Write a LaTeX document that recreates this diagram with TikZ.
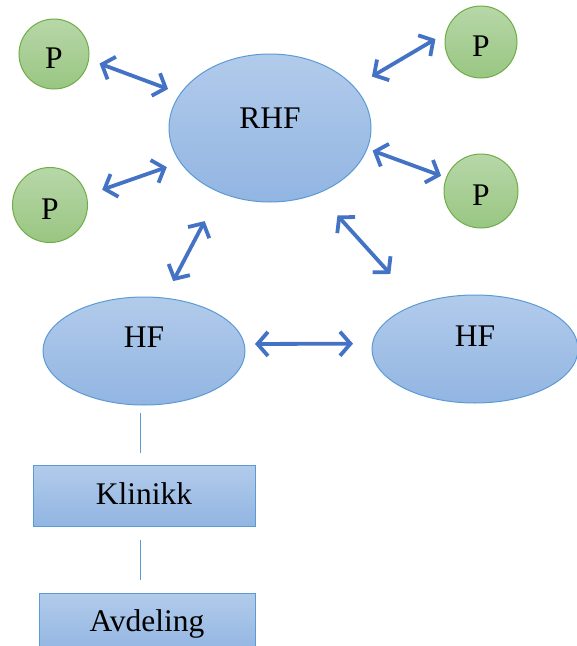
\documentclass[tikz,border=0pt]{standalone}
\usepackage{fontspec}
\setmainfont{Liberation Serif}
\usetikzlibrary{arrows.meta,shapes.geometric}
\definecolor{bluetop}{RGB}{178,203,235}
\definecolor{bluebot}{RGB}{146,181,226}
\definecolor{blueline}{RGB}{91,155,213}
\definecolor{greentop}{RGB}{183,215,168}
\definecolor{greenbot}{RGB}{153,198,130}
\definecolor{greenline}{RGB}{112,173,71}
\definecolor{arrowblue}{RGB}{68,114,196}
\begin{document}
\begin{tikzpicture}[x=1pt,y=-1pt,
 every node/.style={inner sep=0pt, outer sep=0pt, font=\fontsize{31.5}{36}\selectfont},
 blueell/.style={ellipse, draw=blueline, line width=1pt, top color=bluetop, bottom color=bluebot},
 pnode/.style={circle, draw=greenline, line width=1pt, top color=greentop, bottom color=greenbot, text height=29pt, text depth=0pt},
 bluebox/.style={rectangle, draw=blueline, line width=1pt, top color=bluetop, bottom color=bluebot, text height=22pt, text depth=5pt},
 dbl/.style={draw=arrowblue, line width=3.8pt, {Straight Barb[length=10.5pt,width=24pt]}-{Straight Barb[length=10.5pt,width=24pt]}},
 link/.style={draw=blueline, line width=1pt}]
\clip (0,0) rectangle (577,646);
\useasboundingbox (0,0) rectangle (577,646);

\node[blueell, minimum width=202pt, minimum height=148pt, text height=12pt, text depth=12pt] (rhf) at (270,128) {RHF};
\node[pnode, minimum size=70pt] (p1) at (54,54) {P};
\node[pnode, minimum size=75pt] (p2) at (50,205) {P};
\node[pnode, minimum size=72pt] (p3) at (481,42) {P};
\node[pnode, minimum size=74pt] (p4) at (481,191) {P};
\node[blueell, minimum width=202pt, minimum height=108pt, text height=12pt, text depth=20pt] (hfl) at (144,351) {HF};
\node[blueell, minimum width=206pt, minimum height=108pt, text height=12pt, text depth=18pt] (hfr) at (475,349) {HF};
\node[bluebox, minimum width=222pt, minimum height=61pt] (kl) at (144,495.5) {Klinikk};
\node[bluebox, minimum width=216pt, minimum height=60pt] (av) at (147,623) {Avdeling};

\draw[dbl, shorten <=11.7pt, shorten >=13.3pt] (p1.-9.9) -- (rhf.159.1);
\draw[dbl, shorten <=16.9pt, shorten >=14.5pt] (p2.15.1) -- (rhf.201.9);
\draw[dbl, shorten <=20.7pt, shorten >=12.5pt] (rhf.26.6) -- (p3.165.7);
\draw[dbl, shorten <=6pt, shorten >=5.7pt] (rhf.-12.1) -- (p4.159.4);
\draw[dbl, shorten <=32.6pt, shorten >=19.2pt] (rhf.232.1) -- (hfl.69.9);
\draw[dbl, shorten <=29.8pt, shorten >=40.7pt] (rhf.-54.6) -- (hfr.142.8);
\draw[dbl, shorten <=10.8pt, shorten >=19.5pt] (hfl.4.1) -- (hfr.177.2);

\draw[link, shorten <=8pt, shorten >=12pt] ([xshift=-4pt]hfl.south) -- ([xshift=-4pt]kl.north);
\draw[link, shorten <=14pt, shorten >=13pt] ([xshift=-4pt]kl.south) -- ([xshift=-7pt]av.north);
\end{tikzpicture}
\end{document}
